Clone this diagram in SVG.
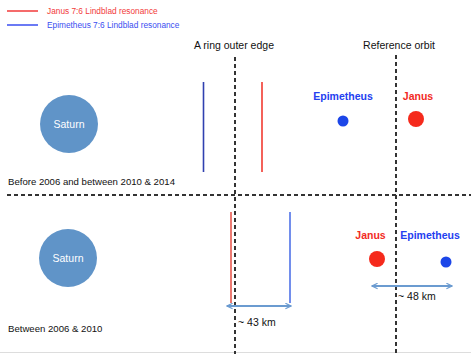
<svg xmlns="http://www.w3.org/2000/svg" width="471" height="354" viewBox="0 0 471 354">
<defs>
<marker id="ah" viewBox="0 0 10 10" refX="9" refY="5" markerWidth="7" markerHeight="7" orient="auto-start-reverse" markerUnits="userSpaceOnUse">
<path d="M1,1 L9,5 L1,9" fill="none" stroke="#6b9bd0" stroke-width="1.6"/>
</marker>
<style>
text{font-family:"Liberation Sans",Arial,sans-serif}
.lbl{font-size:10.5px;fill:#111}
.cap{font-size:9.6px;fill:#111}
.km{font-size:10.5px;fill:#111}
.leg{font-size:8.3px}
.moon{font-size:10.5px;font-weight:bold}
.dash{stroke:#333;stroke-width:2;stroke-dasharray:4 3;fill:none}
.sat{fill:#6094c8}
.sattxt{font-size:10.5px;fill:#fff;text-anchor:middle}
.arr{stroke:#6b9bd0;stroke-width:2;fill:none;marker-start:url(#ah);marker-end:url(#ah)}
</style>
</defs>
<rect width="471" height="354" fill="#fff"/>
<line x1="0" y1="352.5" x2="471" y2="352.5" stroke="#ddd" stroke-width="1"/>

<g id="legend">
<line x1="7" y1="11" x2="38" y2="11" stroke="#f23a3a" stroke-width="1.5"/>
<text class="leg" x="47" y="13.5" fill="#f23a3a">Janus 7:6 Lindblad resonance</text>
<line x1="7" y1="25" x2="38" y2="25" stroke="#3a4ef0" stroke-width="1.5"/>
<text class="leg" x="47" y="28" fill="#3a4ef0">Epimetheus 7:6 Lindblad resonance</text>
</g>

<g id="headers">
<text class="lbl" x="234" y="48.5" text-anchor="middle">A ring outer edge</text>
<text class="lbl" x="399" y="48.5" text-anchor="middle">Reference orbit</text>
</g>

<g id="connectors">
<line class="dash" x1="235" y1="57" x2="235" y2="354"/>
<line class="dash" x1="396" y1="55" x2="396" y2="354"/>
<line class="dash" x1="7" y1="195" x2="471" y2="195"/>
<line class="arr" x1="227" y1="306" x2="291" y2="306"/>
<line class="arr" x1="372" y1="286" x2="452" y2="286"/>
</g>

<g id="saturn-top">
<circle class="sat" cx="69" cy="124" r="29"/>
<text class="sattxt" x="69" y="128">Saturn</text>
</g>
<g id="saturn-bottom">
<circle class="sat" cx="68" cy="258" r="29"/>
<text class="sattxt" x="68" y="262">Saturn</text>
</g>

<g id="lines-top">
<line x1="203.5" y1="82" x2="203.5" y2="172" stroke="#3040b0" stroke-width="1.6"/>
<line x1="262" y1="82" x2="262" y2="172" stroke="#f23a30" stroke-width="1.6"/>
</g>
<g id="lines-bottom">
<line x1="231" y1="212" x2="231" y2="303" stroke="#e85a50" stroke-width="1.6"/>
<line x1="290" y1="212" x2="290" y2="303" stroke="#4f72e8" stroke-width="1.6"/>
</g>

<g id="moons-top">
<text class="moon" x="343" y="99.5" text-anchor="middle" fill="#2340f0">Epimetheus</text>
<circle cx="343" cy="121" r="5.5" fill="#1c46e8"/>
<text class="moon" x="418" y="99.5" text-anchor="middle" fill="#f22a24">Janus</text>
<circle cx="416" cy="119" r="8" fill="#f52a1c"/>
</g>
<g id="moons-bottom">
<text class="moon" x="370.5" y="238.5" text-anchor="middle" fill="#f22a24">Janus</text>
<circle cx="377" cy="259" r="8" fill="#f52a1c"/>
<text class="moon" x="430" y="238.5" text-anchor="middle" fill="#2340f0">Epimetheus</text>
<circle cx="446" cy="262" r="5.5" fill="#1c46e8"/>
</g>

<g id="labels">
<text class="cap" x="8" y="184.5">Before 2006 and between 2010 &amp; 2014</text>
<text class="cap" x="8" y="331.5">Between 2006 &amp; 2010</text>
<text class="km" x="238" y="325.5">~ 43 km</text>
<text class="km" x="398" y="300">~ 48 km</text>
</g>
</svg>
